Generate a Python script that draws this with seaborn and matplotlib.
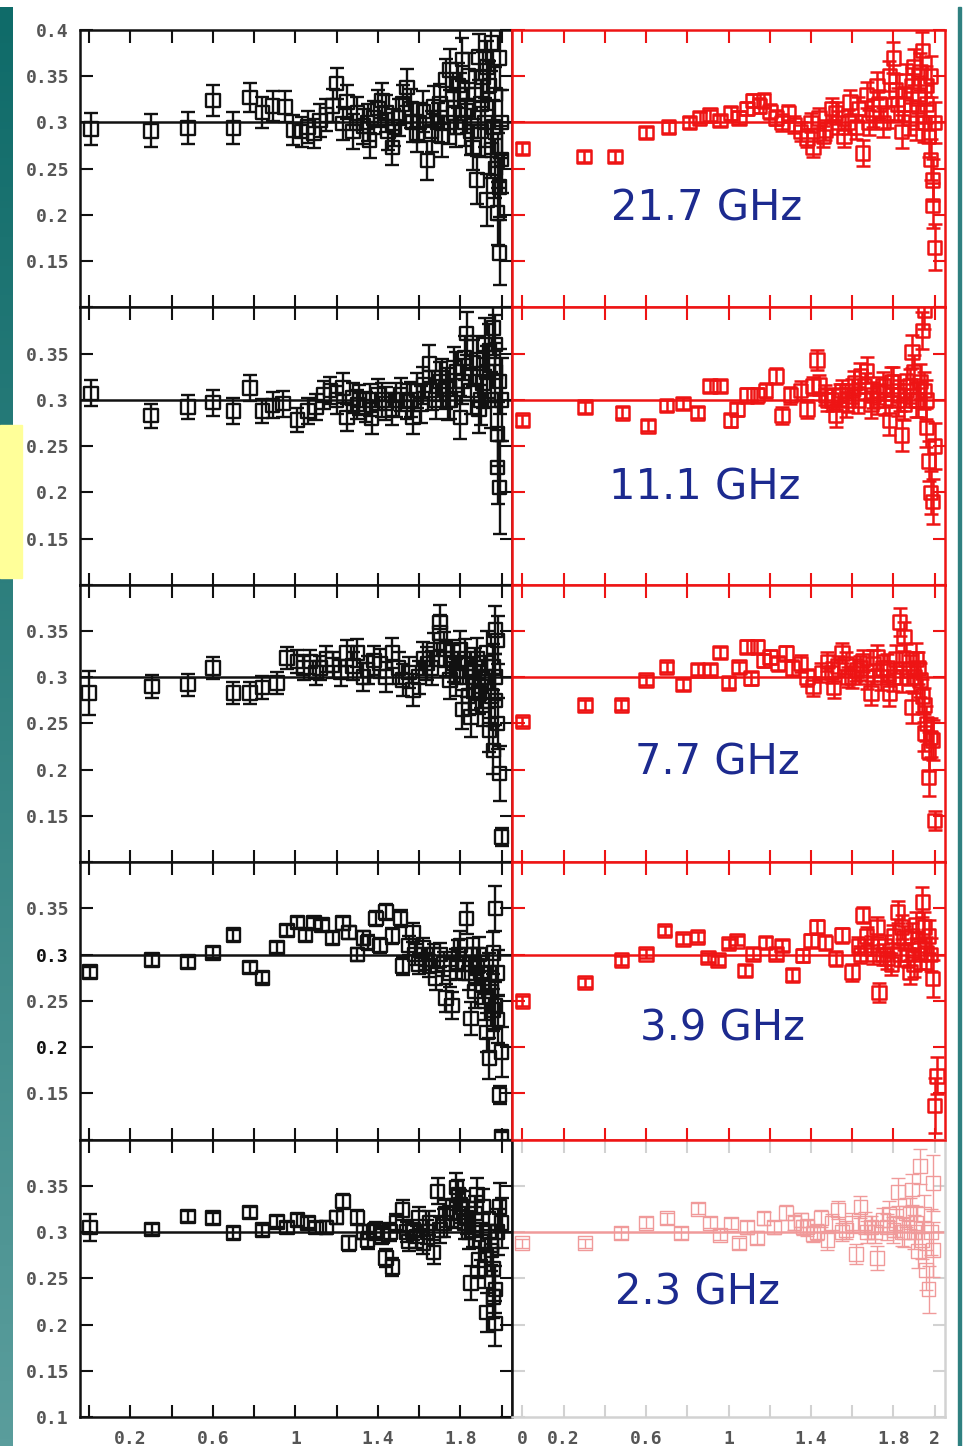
import numpy as np
import matplotlib
matplotlib.use("Agg")
import matplotlib.pyplot as plt
import seaborn as sns
from matplotlib.patches import Rectangle
from matplotlib.colors import LinearSegmentedColormap

sns.set_style("ticks")
plt.rcParams['font.family'] = ['DejaVu Sans Mono']
plt.rcParams['font.weight'] = 'bold'

# ---------------- data ----------------
FREQS = ["21.7 GHz", "11.1 GHz", "7.7 GHz", "3.9 GHz", "2.3 GHz"]
REF_LEVEL = 0.3

# left column (black)
L1_x = [0.01,0.30,0.48,0.60,0.70,0.78,0.84,0.89,0.95,0.99,1.03,1.06,1.09,1.12,1.15,1.18,1.20,1.23,1.25,1.28,1.30,1.33,1.36,1.38,1.40,1.42,1.45,1.47,1.50,1.52,1.54,1.57,1.59,1.62,1.64,1.67,1.69,1.71,1.73,1.75,1.77,1.78,1.80,1.81,1.83,1.85,1.86,1.88,1.89,1.90,1.91,1.92,1.93,1.94,1.95,1.96,1.97,1.98,1.98,1.99,1.99,2.00]
L1_y = [0.293,0.291,0.294,0.324,0.294,0.327,0.311,0.318,0.317,0.292,0.290,0.295,0.288,0.302,0.308,0.318,0.342,0.299,0.322,0.290,0.310,0.296,0.281,0.305,0.315,0.324,0.290,0.273,0.305,0.320,0.338,0.300,0.288,0.312,0.259,0.317,0.300,0.285,0.346,0.357,0.310,0.295,0.330,0.368,0.313,0.290,0.273,0.238,0.371,0.320,0.349,0.300,0.216,0.340,0.386,0.295,0.250,0.259,0.202,0.159,0.230,0.260]
L1_e = [0.017,0.018,0.017,0.017,0.017,0.016,0.017,0.016,0.017,0.016,0.016,0.017,0.016,0.018,0.017,0.018,0.017,0.018,0.018,0.019,0.018,0.019,0.019,0.018,0.020,0.019,0.020,0.019,0.020,0.021,0.020,0.021,0.020,0.022,0.021,0.022,0.021,0.022,0.023,0.022,0.023,0.022,0.024,0.023,0.024,0.025,0.024,0.026,0.025,0.026,0.027,0.026,0.028,0.027,0.030,0.029,0.032,0.030,0.034,0.035,0.032,0.036]
L1_xb = [1.35,1.44,1.48,1.56,1.60,1.66,1.70,1.74,1.79,1.82,1.84,1.87,1.90,1.93,1.95,1.97,1.99,2.00]
L1_yb = [0.300,0.310,0.295,0.315,0.300,0.290,0.320,0.300,0.340,0.300,0.350,0.330,0.290,0.360,0.270,0.330,0.370,0.300]
L1_eb = [0.020,0.020,0.020,0.021,0.021,0.022,0.022,0.023,0.024,0.025,0.025,0.026,0.027,0.028,0.030,0.030,0.035,0.035]

L2_x = [0.01,0.30,0.48,0.60,0.70,0.78,0.84,0.89,0.94,1.01,1.06,1.10,1.14,1.17,1.20,1.23,1.25,1.28,1.31,1.34,1.37,1.40,1.44,1.47,1.51,1.54,1.57,1.59,1.62,1.65,1.68,1.71,1.73,1.75,1.78,1.80,1.82,1.83,1.85,1.88,1.89,1.91,1.92,1.94,1.95,1.96,1.97,1.98,1.98,1.99,2.00]
L2_y = [0.307,0.283,0.292,0.297,0.288,0.313,0.288,0.294,0.296,0.278,0.288,0.292,0.305,0.310,0.300,0.313,0.281,0.302,0.300,0.292,0.280,0.306,0.296,0.290,0.306,0.298,0.281,0.310,0.316,0.339,0.300,0.324,0.312,0.300,0.330,0.281,0.345,0.372,0.310,0.343,0.290,0.318,0.360,0.353,0.300,0.378,0.330,0.263,0.227,0.205,0.300]
L2_e = [0.014,0.013,0.013,0.014,0.014,0.014,0.013,0.014,0.014,0.013,0.014,0.014,0.015,0.015,0.015,0.016,0.015,0.016,0.016,0.016,0.017,0.017,0.018,0.017,0.018,0.019,0.018,0.019,0.020,0.020,0.021,0.020,0.022,0.021,0.022,0.023,0.024,0.023,0.025,0.026,0.026,0.027,0.028,0.029,0.030,0.030,0.032,0.035,0.040,0.050,0.045]
L2_xb = [1.30,1.36,1.42,1.49,1.56,1.61,1.66,1.70,1.74,1.77,1.81,1.86,1.90,1.93,1.97,1.99]
L2_yb = [0.295,0.300,0.300,0.300,0.300,0.295,0.310,0.320,0.300,0.335,0.320,0.340,0.300,0.330,0.360,0.320]
L2_eb = [0.016,0.017,0.018,0.018,0.019,0.020,0.021,0.021,0.022,0.022,0.024,0.025,0.027,0.028,0.032,0.035]

L3_x = [0.00,0.305,0.48,0.60,0.70,0.78,0.84,0.91,0.96,1.01,1.04,1.07,1.10,1.12,1.15,1.18,1.22,1.25,1.28,1.30,1.33,1.35,1.38,1.41,1.44,1.47,1.50,1.52,1.55,1.57,1.60,1.64,1.67,1.70,1.70,1.73,1.75,1.77,1.80,1.81,1.83,1.85,1.87,1.89,1.91,1.93,1.94,1.96,1.96,1.97,1.97,1.98,1.99,2.00]
L3_y = [0.283,0.290,0.292,0.310,0.283,0.283,0.289,0.294,0.321,0.317,0.310,0.317,0.305,0.310,0.320,0.313,0.305,0.326,0.312,0.326,0.300,0.308,0.318,0.315,0.300,0.326,0.310,0.297,0.305,0.286,0.300,0.315,0.330,0.359,0.348,0.320,0.297,0.315,0.330,0.265,0.300,0.257,0.310,0.283,0.270,0.326,0.243,0.311,0.221,0.351,0.275,0.250,0.196,0.127]
L3_e = [0.024,0.012,0.012,0.012,0.012,0.012,0.012,0.012,0.012,0.012,0.013,0.013,0.013,0.013,0.014,0.014,0.014,0.014,0.015,0.015,0.015,0.015,0.016,0.016,0.016,0.016,0.017,0.017,0.017,0.017,0.018,0.018,0.018,0.019,0.019,0.019,0.020,0.020,0.020,0.021,0.021,0.022,0.022,0.023,0.023,0.024,0.024,0.025,0.026,0.026,0.027,0.028,0.030,0.010]
L3_xb = [1.62,1.66,1.72,1.76,1.78,1.82,1.84,1.86,1.88,1.90,1.92,1.95,1.97,1.98]
L3_yb = [0.320,0.310,0.330,0.320,0.300,0.320,0.280,0.300,0.320,0.290,0.300,0.280,0.300,0.340]
L3_eb = [0.018,0.018,0.019,0.020,0.020,0.021,0.021,0.022,0.022,0.023,0.023,0.024,0.025,0.026]

L4_x = [0.005,0.305,0.48,0.60,0.70,0.78,0.84,0.91,0.96,1.01,1.05,1.09,1.13,1.18,1.23,1.26,1.30,1.33,1.35,1.39,1.41,1.44,1.47,1.51,1.52,1.55,1.57,1.60,1.62,1.65,1.68,1.70,1.73,1.76,1.78,1.80,1.83,1.85,1.86,1.88,1.90,1.91,1.93,1.94,1.95,1.96,1.97,1.97,1.98,1.99,2.00,2.00]
L4_y = [0.281,0.294,0.292,0.302,0.321,0.286,0.275,0.308,0.326,0.335,0.321,0.334,0.332,0.318,0.334,0.324,0.300,0.318,0.313,0.339,0.310,0.346,0.320,0.339,0.288,0.310,0.324,0.290,0.307,0.288,0.274,0.300,0.253,0.245,0.290,0.310,0.339,0.231,0.300,0.288,0.280,0.267,0.216,0.188,0.260,0.302,0.350,0.245,0.230,0.148,0.195,0.103]
L4_e = [0.006,0.006,0.006,0.006,0.006,0.006,0.006,0.006,0.006,0.006,0.006,0.006,0.006,0.007,0.007,0.007,0.007,0.008,0.008,0.008,0.008,0.009,0.009,0.009,0.010,0.010,0.010,0.011,0.011,0.012,0.012,0.013,0.015,0.015,0.016,0.016,0.017,0.018,0.018,0.019,0.019,0.020,0.021,0.022,0.022,0.023,0.024,0.025,0.026,0.010,0.027,0.005]
L4_xb = [1.58,1.63,1.67,1.72,1.75,1.79,1.82,1.84,1.87,1.89,1.92,1.94,1.96,1.98]
L4_yb = [0.300,0.295,0.300,0.290,0.280,0.300,0.290,0.280,0.260,0.300,0.250,0.280,0.240,0.280]
L4_eb = [0.011,0.012,0.012,0.013,0.015,0.016,0.017,0.018,0.018,0.019,0.021,0.022,0.023,0.025]

L5_x = [0.005,0.305,0.48,0.60,0.70,0.78,0.84,0.91,0.96,1.01,1.06,1.10,1.15,1.20,1.23,1.26,1.30,1.33,1.35,1.39,1.42,1.44,1.47,1.49,1.52,1.55,1.57,1.60,1.62,1.65,1.67,1.69,1.70,1.73,1.75,1.78,1.80,1.81,1.83,1.85,1.86,1.88,1.89,1.91,1.93,1.94,1.95,1.96,1.97,1.97,1.99,2.00]
L5_y = [0.305,0.303,0.317,0.315,0.299,0.321,0.302,0.311,0.305,0.313,0.310,0.305,0.305,0.316,0.333,0.288,0.316,0.300,0.291,0.302,0.296,0.272,0.262,0.310,0.324,0.290,0.302,0.315,0.288,0.310,0.278,0.344,0.302,0.320,0.321,0.348,0.330,0.327,0.315,0.245,0.302,0.340,0.270,0.327,0.213,0.300,0.286,0.260,0.201,0.238,0.327,0.310]
L5_e = [0.015,0.006,0.006,0.006,0.006,0.006,0.006,0.006,0.006,0.006,0.006,0.006,0.007,0.007,0.008,0.008,0.008,0.008,0.009,0.009,0.009,0.010,0.010,0.010,0.011,0.011,0.011,0.012,0.012,0.013,0.013,0.014,0.014,0.015,0.015,0.016,0.016,0.017,0.017,0.018,0.018,0.019,0.020,0.020,0.021,0.022,0.022,0.023,0.024,0.025,0.026,0.027]
L5_xb = [1.38,1.46,1.54,1.59,1.64,1.72,1.77,1.79,1.82,1.84,1.87,1.90,1.92,1.95,1.96,1.98]
L5_yb = [0.300,0.300,0.300,0.295,0.300,0.310,0.320,0.340,0.310,0.300,0.320,0.290,0.260,0.280,0.230,0.300]
L5_eb = [0.009,0.010,0.011,0.012,0.013,0.015,0.016,0.016,0.017,0.018,0.019,0.020,0.021,0.022,0.023,0.025]

# right column (red)
R1_x = [0.00,0.30,0.45,0.60,0.71,0.81,0.86,0.91,0.96,1.01,1.05,1.09,1.12,1.15,1.17,1.20,1.23,1.26,1.29,1.32,1.35,1.38,1.41,1.44,1.47,1.50,1.53,1.56,1.59,1.62,1.65,1.67,1.70,1.72,1.75,1.78,1.80,1.82,1.84,1.86,1.88,1.90,1.92,1.94,1.95,1.96,1.97,1.98,1.99,1.99,2.00]
R1_y = [0.272,0.263,0.263,0.289,0.295,0.300,0.305,0.308,0.302,0.310,0.305,0.315,0.324,0.318,0.324,0.312,0.305,0.300,0.310,0.298,0.290,0.283,0.273,0.305,0.292,0.315,0.300,0.285,0.322,0.295,0.267,0.330,0.310,0.340,0.300,0.350,0.370,0.320,0.290,0.345,0.305,0.360,0.330,0.378,0.300,0.340,0.285,0.260,0.238,0.210,0.165]
R1_e = [0.006,0.006,0.006,0.006,0.006,0.006,0.006,0.006,0.006,0.007,0.007,0.007,0.007,0.008,0.008,0.008,0.008,0.009,0.009,0.009,0.010,0.010,0.010,0.011,0.011,0.012,0.012,0.012,0.013,0.013,0.014,0.014,0.015,0.015,0.016,0.016,0.017,0.017,0.018,0.018,0.019,0.019,0.020,0.020,0.021,0.021,0.022,0.022,0.023,0.024,0.025]
R1_xb = [1.40,1.46,1.52,1.58,1.63,1.68,1.73,1.77,1.81,1.85,1.89,1.91,1.93,1.96,1.98,2.00]
R1_yb = [0.300,0.285,0.310,0.300,0.315,0.300,0.320,0.310,0.335,0.320,0.340,0.300,0.355,0.320,0.350,0.300]
R1_eb = [0.010,0.011,0.012,0.013,0.013,0.014,0.015,0.016,0.017,0.018,0.019,0.019,0.020,0.021,0.022,0.022]

R2_x = [0.00,0.305,0.485,0.61,0.70,0.78,0.85,0.91,0.96,1.01,1.04,1.09,1.14,1.18,1.23,1.26,1.30,1.35,1.38,1.41,1.43,1.44,1.47,1.50,1.52,1.55,1.58,1.61,1.64,1.67,1.70,1.72,1.75,1.78,1.80,1.82,1.84,1.86,1.89,1.91,1.93,1.94,1.95,1.96,1.97,1.98,1.99,2.00]
R2_y = [0.278,0.292,0.286,0.272,0.294,0.296,0.286,0.315,0.315,0.278,0.290,0.305,0.305,0.310,0.326,0.283,0.305,0.310,0.290,0.315,0.343,0.316,0.305,0.300,0.283,0.310,0.300,0.318,0.326,0.332,0.305,0.300,0.315,0.278,0.320,0.300,0.262,0.310,0.352,0.300,0.320,0.375,0.397,0.300,0.234,0.200,0.190,0.250]
R2_e = [0.006,0.006,0.006,0.006,0.006,0.006,0.006,0.007,0.007,0.007,0.007,0.008,0.008,0.008,0.009,0.009,0.009,0.010,0.010,0.010,0.011,0.011,0.011,0.012,0.012,0.012,0.013,0.013,0.014,0.014,0.014,0.015,0.015,0.016,0.016,0.017,0.017,0.018,0.018,0.019,0.019,0.020,0.020,0.021,0.022,0.023,0.024,0.025]
R2_xb = [1.48,1.54,1.57,1.60,1.63,1.66,1.69,1.73,1.76,1.79,1.83,1.85,1.88,1.90,1.92,1.95,1.96]
R2_yb = [0.300,0.305,0.295,0.310,0.300,0.315,0.295,0.310,0.300,0.320,0.305,0.295,0.315,0.330,0.300,0.310,0.270]
R2_eb = [0.012,0.012,0.013,0.013,0.014,0.014,0.015,0.015,0.016,0.016,0.017,0.017,0.018,0.018,0.019,0.020,0.021]

R3_x = [0.00,0.305,0.48,0.60,0.70,0.78,0.85,0.91,0.96,1.00,1.05,1.09,1.11,1.14,1.17,1.20,1.24,1.28,1.31,1.35,1.38,1.41,1.45,1.48,1.51,1.55,1.58,1.62,1.65,1.69,1.72,1.75,1.78,1.80,1.83,1.85,1.88,1.89,1.91,1.93,1.95,1.96,1.97,1.98,1.99,2.00]
R3_y = [0.252,0.270,0.270,0.297,0.311,0.292,0.308,0.308,0.327,0.294,0.311,0.333,0.299,0.333,0.318,0.322,0.315,0.326,0.310,0.315,0.300,0.290,0.305,0.317,0.289,0.326,0.300,0.308,0.318,0.283,0.322,0.310,0.283,0.300,0.360,0.344,0.308,0.268,0.320,0.297,0.270,0.250,0.192,0.235,0.232,0.145]
R3_e = [0.005,0.005,0.005,0.005,0.005,0.006,0.006,0.006,0.006,0.006,0.006,0.007,0.007,0.007,0.007,0.008,0.008,0.008,0.009,0.009,0.009,0.010,0.010,0.010,0.011,0.011,0.011,0.012,0.012,0.013,0.013,0.014,0.014,0.015,0.015,0.016,0.016,0.017,0.017,0.018,0.018,0.019,0.020,0.021,0.022,0.010]
R3_xb = [1.50,1.53,1.57,1.60,1.64,1.67,1.70,1.74,1.77,1.81,1.84,1.86,1.90,1.92,1.94,1.95,1.97]
R3_yb = [0.305,0.312,0.315,0.300,0.310,0.300,0.315,0.300,0.310,0.320,0.300,0.320,0.300,0.310,0.280,0.240,0.220]
R3_eb = [0.011,0.011,0.012,0.012,0.013,0.013,0.014,0.014,0.015,0.015,0.016,0.016,0.017,0.017,0.018,0.020,0.021]

R4_x = [0.00,0.305,0.48,0.60,0.69,0.78,0.85,0.90,0.95,1.00,1.04,1.08,1.12,1.18,1.23,1.26,1.31,1.36,1.40,1.43,1.47,1.52,1.55,1.60,1.63,1.65,1.69,1.73,1.75,1.77,1.80,1.82,1.85,1.88,1.91,1.93,1.94,1.96,1.97,1.99,2.00,2.01]
R4_y = [0.250,0.270,0.294,0.301,0.326,0.317,0.319,0.297,0.294,0.312,0.315,0.283,0.301,0.313,0.301,0.310,0.278,0.299,0.315,0.330,0.313,0.296,0.321,0.281,0.310,0.343,0.310,0.259,0.300,0.296,0.320,0.346,0.318,0.281,0.332,0.300,0.357,0.302,0.320,0.274,0.137,0.169]
R4_e = [0.005,0.005,0.005,0.005,0.005,0.005,0.005,0.005,0.005,0.005,0.005,0.006,0.006,0.006,0.006,0.006,0.007,0.007,0.007,0.007,0.008,0.008,0.008,0.009,0.009,0.009,0.010,0.010,0.011,0.011,0.012,0.012,0.013,0.013,0.014,0.015,0.016,0.017,0.018,0.020,0.030,0.020]
R4_xb = [1.64,1.67,1.70,1.72,1.76,1.79,1.83,1.84,1.87,1.89,1.90,1.92,1.95,1.98]
R4_yb = [0.300,0.320,0.300,0.330,0.310,0.290,0.300,0.330,0.300,0.320,0.290,0.310,0.330,0.300]
R4_eb = [0.009,0.010,0.010,0.011,0.011,0.012,0.012,0.013,0.013,0.014,0.014,0.015,0.016,0.018]

R5_x = [0.00,0.305,0.48,0.60,0.70,0.77,0.85,0.91,0.96,1.01,1.05,1.09,1.14,1.17,1.22,1.28,1.32,1.35,1.38,1.41,1.45,1.48,1.53,1.57,1.60,1.62,1.64,1.67,1.69,1.72,1.75,1.78,1.80,1.82,1.84,1.86,1.89,1.91,1.93,1.94,1.96,1.97,1.99,1.99]
R5_y = [0.288,0.288,0.299,0.310,0.315,0.299,0.325,0.310,0.297,0.309,0.288,0.305,0.294,0.315,0.305,0.321,0.310,0.313,0.305,0.298,0.315,0.291,0.324,0.302,0.310,0.276,0.327,0.300,0.305,0.272,0.313,0.320,0.302,0.343,0.300,0.321,0.346,0.310,0.371,0.291,0.259,0.238,0.281,0.353]
R5_e = [0.005,0.005,0.006,0.006,0.006,0.006,0.006,0.006,0.006,0.006,0.006,0.007,0.007,0.007,0.007,0.008,0.008,0.008,0.009,0.009,0.009,0.010,0.010,0.010,0.011,0.011,0.012,0.012,0.012,0.013,0.013,0.014,0.014,0.015,0.015,0.016,0.017,0.018,0.019,0.020,0.022,0.025,0.030,0.030]
R5_xb = [1.36,1.43,1.50,1.55,1.66,1.71,1.77,1.81,1.85,1.88,1.90,1.92,1.95,1.98]
R5_yb = [0.305,0.300,0.310,0.300,0.310,0.300,0.305,0.310,0.300,0.320,0.300,0.280,0.320,0.300]
R5_eb = [0.008,0.009,0.010,0.010,0.012,0.012,0.014,0.015,0.016,0.017,0.018,0.019,0.020,0.025]

XTICKS = [0.0, 0.2, 0.4, 0.6, 0.8, 1.0, 1.2, 1.4, 1.6, 1.8, 2.0]
LEFT_XLABELS = ["", "0.2", "", "0.6", "", "1", "", "1.4", "", "1.8", ""]
RIGHT_XLABELS = ["0", "0.2", "", "0.6", "", "1", "", "1.4", "", "1.8", "2"]
YTICKS = [0.1, 0.15, 0.2, 0.25, 0.3, 0.35, 0.4]
YLABELS = ["0.1", "0.15", "0.2", "0.25", "0.3", "0.35", "0.4"]

LEFT = [(L1_x + L1_xb, L1_y + L1_yb, L1_e + L1_eb),
        (L2_x + L2_xb, L2_y + L2_yb, L2_e + L2_eb),
        (L3_x + L3_xb, L3_y + L3_yb, L3_e + L3_eb),
        (L4_x + L4_xb, L4_y + L4_yb, L4_e + L4_eb),
        (L5_x + L5_xb, L5_y + L5_yb, L5_e + L5_eb)]
RIGHT = [(R1_x + R1_xb, R1_y + R1_yb, R1_e + R1_eb),
         (R2_x + R2_xb, R2_y + R2_yb, R2_e + R2_eb),
         (R3_x + R3_xb, R3_y + R3_yb, R3_e + R3_eb),
         (R4_x + R4_xb, R4_y + R4_yb, R4_e + R4_eb),
         (R5_x + R5_xb, R5_y + R5_yb, R5_e + R5_eb)]

# ---------------- layout ----------------
W, H = 963, 1446
fig = plt.figure(figsize=(W / 100, H / 100), dpi=100)
fig.patch.set_facecolor("white")

TOP0, PH = 30.0, 277.4
LX, LW = 80.0, 432.0
RX, RW = 512.0, 433.0
BLACK = "#111111"
RED = "#ee1414"
FADE = "#f09a9a"
GRAYSP = "#d2d2d2"
LABEL_C = "#555555"
NAVY = "#1c2a8f"
TEXT_POS = [(0.896, 0.207), (0.886, 0.205), (0.944, 0.208), (0.969, 0.220), (0.847, 0.235)]


def draw_panel(ax, x, y, e, color, lw, ms):
    n = min(len(x), len(y), len(e))
    x, y, e = np.array(x[:n]), np.array(y[:n]), np.array(e[:n])
    ax.axhline(REF_LEVEL, color=color, lw=1.8, zorder=1)
    ax.errorbar(x, y, yerr=e, fmt='none', ecolor=color, elinewidth=lw,
                capsize=5, capthick=lw, zorder=2)
    sns.scatterplot(x=x, y=y, ax=ax, marker='s', s=ms, color=color,
                    facecolor='none', edgecolor=color, linewidth=lw,
                    zorder=3, legend=False)


for i in range(5):
    top = TOP0 + PH * i
    bottom_frac = 1 - (top + PH) / H
    for side in ("L", "R"):
        if side == "L":
            ax = fig.add_axes([LX / W, bottom_frac, LW / W, PH / H])
            x, y, e = LEFT[i]
            draw_panel(ax, x, y, e, BLACK, 1.7, 95)
            ax.set_xlim(-0.044, 2.05)
            spc = {s: BLACK for s in ("left", "right", "top", "bottom")}
            tickc = BLACK
        else:
            ax = fig.add_axes([RX / W, bottom_frac, RW / W, PH / H])
            x, y, e = RIGHT[i]
            if i < 4:
                draw_panel(ax, x, y, e, RED, 1.8, 95)
                spc = {s: RED for s in ("left", "right", "top", "bottom")}
                tickc = RED
            else:
                draw_panel(ax, x, y, e, FADE, 1.0, 100)
                spc = {"left": BLACK, "right": GRAYSP, "top": RED, "bottom": GRAYSP}
                tickc = GRAYSP
            ax.set_xlim(-0.05, 2.05)
            ax.text(TEXT_POS[i][0], TEXT_POS[i][1], FREQS[i], ha='center', va='center',
                    color=NAVY, fontsize=30, family='DejaVu Sans', weight='normal', zorder=5)
        ax.set_ylim(0.1, 0.4)
        ax.set_facecolor("white")
        for s, c in spc.items():
            ax.spines[s].set_color(c)
            ax.spines[s].set_linewidth(1.8)
            ax.spines[s].set_visible(True)
        ax.set_xticks(XTICKS)
        ax.set_yticks(YTICKS)
        ax.tick_params(axis='both', direction='in', length=9, width=1.5, color=tickc,
                       top=True, right=True, labelcolor=LABEL_C, labelsize=13)
        ax.tick_params(axis='y', pad=8)
        ax.tick_params(axis='x', pad=9)
        if i == 4:
            ax.set_xticklabels(LEFT_XLABELS if side == "L" else RIGHT_XLABELS)
        else:
            ax.set_xticklabels([""] * len(XTICKS))
        if side == "L":
            labs = list(YLABELS)
            if i != 0:
                labs[-1] = ""
            if i != 4:
                labs[0] = ""
            ax.set_yticklabels(labs)
            if i == 3:
                for t in ax.get_yticklabels():
                    if t.get_text() in ("0.3", "0.2"):
                        t.set_color("#111111")
        else:
            ax.set_yticklabels([""] * len(YTICKS))
        ax.set_xlabel("")
        ax.set_ylabel("")

# ---------------- slide decorations ----------------
cm = LinearSegmentedColormap.from_list("teal", ["#0f6b69", "#5a9d9c"])
bar = fig.add_axes([0, 0, 12 / W, (H - 7) / H])
bar.imshow(np.linspace(0, 1, 200).reshape(-1, 1), aspect='auto', cmap=cm)
bar.set_axis_off()
fig.add_artist(Rectangle((958 / W, 0), 3 / W, (H - 7) / H, transform=fig.transFigure,
                         color="#2f8080", zorder=20))
fig.add_artist(Rectangle((0, 1 - 578 / H), 22 / W, 153 / H, transform=fig.transFigure,
                         color="#ffff99", zorder=20))

fig.savefig("out.png", dpi=100)
